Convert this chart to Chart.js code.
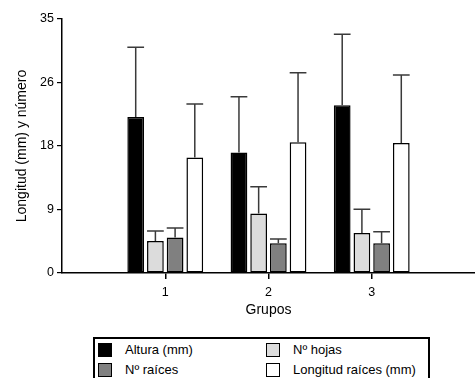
<!DOCTYPE html>
<html>
<head>
<meta charset="utf-8">
<script src="https://cdn.jsdelivr.net/npm/chart.js@4"></script>
<style>
  body { margin: 0; width: 475px; height: 378px; overflow: hidden; background: #fff; font-family: "Liberation Sans", Arial, sans-serif; }
  #wrap { position: absolute; left: 0; top: 0; }
  #legend { position: absolute; left: 93px; top: 337px; width: 333px; height: 50px; border: 2px solid #000; border-bottom: none; }
  .item { position: absolute; font-size: 13px; color: #000; line-height: 14px; white-space: nowrap; }
  .item span.box { position: absolute; left: 0; top: 0; width: 12px; height: 12px; border: 1px solid #000; }
  .item span.txt { position: absolute; left: 27px; top: 0; }
</style>
</head>
<body>
<div id="wrap"><canvas id="chart" width="481" height="330"></canvas></div>
<div id="legend"></div>
<script>
const categories = ['1', '2', '3'];
const seriesNames = ['Altura (mm)', 'Nº hojas', 'Nº raíces', 'Longitud raíces (mm)'];
const alturaMean = [21.5, 16.6, 23.1];
const alturaSD = [9.6, 7.7, 9.8];
const hojasMean = [4.4, 8.2, 5.5];
const hojasSD = [1.4, 3.7, 3.3];
const raicesMean = [4.9, 4.1, 4.1];
const raicesSD = [1.3, 0.6, 1.6];
const longitudMean = [15.9, 18.0, 17.9];
const longitudSD = [7.4, 9.6, 9.4];
const yTicks = [0, 8.75, 17.5, 26.25, 35];
const colors = ['#000000', '#dcdcdc', '#808080', '#ffffff'];

// empty slots at both ends so the axis runs from the y axis to past the right edge
const labels = [''].concat(categories, ['']);
const pad = arr => [null].concat(arr, [null]);

const means = [alturaMean, hojasMean, raicesMean, longitudMean];
const sds = [alturaSD, hojasSD, raicesSD, longitudSD];

const errorBars = {
  id: 'errorBars',
  afterDatasetsDraw(chart) {
    const ctx = chart.ctx;
    const y = chart.scales.y;
    ctx.save();
    ctx.strokeStyle = '#3a3a3a';
    ctx.lineWidth = 1.5;
    chart.data.datasets.forEach((ds, i) => {
      const meta = chart.getDatasetMeta(i);
      meta.data.forEach((bar, j) => {
        const v = ds.data[j];
        if (v == null) return;
        const sd = ds.sd[j];
        const top = y.getPixelForValue(v + sd);
        const half = bar.width / 2;
        ctx.beginPath();
        ctx.moveTo(bar.x, bar.y);
        ctx.lineTo(bar.x, top);
        ctx.moveTo(bar.x - half, top);
        ctx.lineTo(bar.x + half, top);
        ctx.stroke();
      });
    });
    ctx.restore();
  }
};

const chart = new Chart(document.getElementById('chart').getContext('2d'), {
  type: 'bar',
  data: {
    labels: labels,
    datasets: seriesNames.map((name, i) => ({
      label: name,
      data: pad(means[i]),
      sd: pad(sds[i]),
      backgroundColor: colors[i],
      borderColor: '#000',
      borderWidth: 1.5,
      borderSkipped: false,
      categoryPercentage: 0.763,
      barPercentage: 0.85
    }))
  },
  options: {
    responsive: false,
    animation: false,
    layout: { padding: { top: 19, right: 0, left: 0, bottom: 0 } },
    plugins: { legend: { display: false }, tooltip: { enabled: false } },
    scales: {
      x: {
        offset: false,
        afterFit(scale) { scale.height = 57; },
        border: { display: true, color: '#000', width: 1.5 },
        grid: {
          offset: false,
          drawOnChartArea: false,
          drawTicks: true,
          tickLength: 6,
          color: ctx => (ctx.index === 0 || ctx.index === labels.length - 1) ? 'rgba(0,0,0,0)' : '#000',
          lineWidth: 1.5
        },
        ticks: { color: '#000', padding: 6, font: { family: '"Liberation Sans", Arial', size: 12.5 } },
        title: {
          display: true, text: 'Grupos', color: '#000',
          font: { family: '"Liberation Sans", Arial', size: 14 },
          padding: { top: 0, bottom: 11 }
        }
      },
      y: {
        min: 0,
        max: 35,
        afterFit(scale) { scale.width = 62; },
        afterBuildTicks(scale) { scale.ticks = yTicks.map(v => ({ value: v })); },
        border: { display: true, color: '#000', width: 1.5 },
        grid: { drawOnChartArea: false, drawTicks: true, tickLength: 5, color: '#000', lineWidth: 1.2 },
        ticks: {
          color: '#000', padding: 3,
          font: { family: '"Liberation Sans", Arial', size: 12.5 },
          callback: v => String(Math.round(v))
        },
        title: {
          display: true, text: 'Longitud (mm) y número', color: '#000',
          font: { family: '"Liberation Sans", Arial', size: 14 },
          padding: { top: 14, bottom: 0 }
        }
      }
    }
  },
  plugins: [errorBars]
});

// legend in two columns, built from the datasets
const legend = document.getElementById('legend');
const pos = [[3, 4], [171, 4], [3, 24], [171, 24]];
chart.data.datasets.forEach((ds, i) => {
  const it = document.createElement('div');
  it.className = 'item';
  it.style.left = pos[i][0] + 'px';
  it.style.top = pos[i][1] + 'px';
  it.innerHTML = '<span class="box" style="background:' + ds.backgroundColor + '"></span><span class="txt">' + ds.label + '</span>';
  legend.appendChild(it);
});
</script>
</body>
</html>
